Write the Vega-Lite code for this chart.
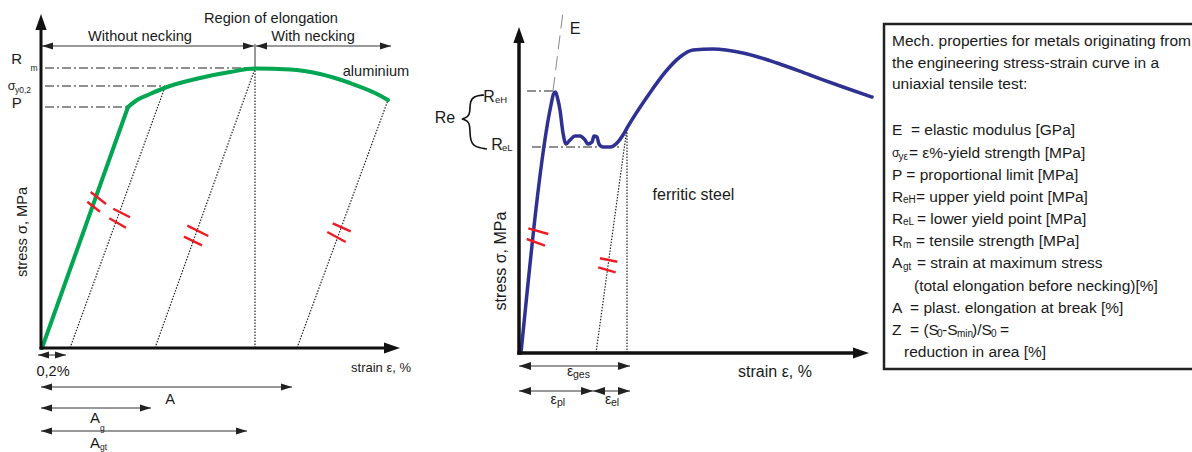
{
  "$schema": "https://vega.github.io/schema/vega-lite/v6.json",
  "background": "white",
  "padding": 0,
  "spacing": 0,
  "config": {"view": {"stroke": null}, "font": "Liberation Sans"},
  "resolve": {"scale": {"x": "independent", "y": "independent"}},
  "datasets": {
    "leftSeg": [
      {"x": 29, "y": 0, "x2": 124, "y2": 261, "kind": "dot"},
      {"x": 114, "y": 0, "x2": 214, "y2": 279.5, "kind": "dot"},
      {"x": 214, "y": 0, "x2": 214, "y2": 279.5, "kind": "dot"},
      {"x": 256, "y": 0, "x2": 347, "y2": 248, "kind": "dot"},
      {"x": 4, "y": 280, "x2": 214, "y2": 280, "kind": "dashdot"},
      {"x": 4, "y": 262, "x2": 124, "y2": 262, "kind": "dashdot"},
      {"x": 4, "y": 241, "x2": 86, "y2": 241, "kind": "dashdot"},
      {"x": 1, "y": 302, "x2": 213, "y2": 302, "kind": "dim"},
      {"x": 215, "y": 302, "x2": 350, "y2": 302, "kind": "dim"},
      {"x": 214, "y": 280, "x2": 214, "y2": 304, "kind": "dim"},
      {"x": -3, "y": -7, "x2": 25, "y2": -7, "kind": "dim"},
      {"x": 0, "y": -39, "x2": 251, "y2": -39, "kind": "dim"},
      {"x": 0, "y": -60, "x2": 110, "y2": -60, "kind": "dim"},
      {"x": 0, "y": -83, "x2": 206, "y2": -83, "kind": "dim"},
      {"x": 49.7, "y": 156, "x2": 65, "y2": 144, "kind": "tick"},
      {"x": 46.3, "y": 146.3, "x2": 59, "y2": 136.3, "kind": "tick"},
      {"x": 72.3, "y": 139.3, "x2": 89, "y2": 130.7, "kind": "tick"},
      {"x": 68.3, "y": 129.7, "x2": 85, "y2": 120.3, "kind": "tick"},
      {"x": 146.3, "y": 122.3, "x2": 167.3, "y2": 112, "kind": "tick"},
      {"x": 143, "y": 111.3, "x2": 161, "y2": 102.7, "kind": "tick"},
      {"x": 291.7, "y": 124.7, "x2": 309.7, "y2": 116.7, "kind": "tick"},
      {"x": 286.3, "y": 116, "x2": 304.7, "y2": 106, "kind": "tick"},
      {"x": 0, "y": 0, "x2": 0, "y2": 320, "kind": "axis"},
      {"x": 0, "y": 0, "x2": 345, "y2": 0, "kind": "axis"}
    ],
    "leftArrow": [
      {"x": 0, "y": 334, "dir": "up", "kind": "axis"},
      {"x": 359, "y": 0, "dir": "right", "kind": "axis"},
      {"x": 1, "y": 302, "dir": "left", "kind": "dim"},
      {"x": 213, "y": 302, "dir": "right", "kind": "dim"},
      {"x": 215, "y": 302, "dir": "left", "kind": "dim"},
      {"x": 350, "y": 302, "dir": "right", "kind": "dim"},
      {"x": -3, "y": -7, "dir": "left", "kind": "dim"},
      {"x": 25, "y": -7, "dir": "right", "kind": "dim"},
      {"x": 0, "y": -39, "dir": "left", "kind": "dim"},
      {"x": 251, "y": -39, "dir": "right", "kind": "dim"},
      {"x": 0, "y": -60, "dir": "left", "kind": "dim"},
      {"x": 110, "y": -60, "dir": "right", "kind": "dim"},
      {"x": 0, "y": -83, "dir": "left", "kind": "dim"},
      {"x": 206, "y": -83, "dir": "right", "kind": "dim"}
    ],
    "leftCurve": [
      {"x": 1, "y": 0, "seg": "elastic", "i": 0},
      {"x": 87, "y": 241, "seg": "elastic", "i": 1},
      {"x": 87, "y": 241, "seg": "plastic", "i": 0},
      {"x": 96, "y": 248, "seg": "plastic", "i": 1},
      {"x": 109, "y": 254, "seg": "plastic", "i": 2},
      {"x": 126, "y": 261, "seg": "plastic", "i": 3},
      {"x": 159, "y": 270, "seg": "plastic", "i": 4},
      {"x": 189, "y": 276, "seg": "plastic", "i": 5},
      {"x": 214, "y": 279.5, "seg": "plastic", "i": 6},
      {"x": 249, "y": 278.5, "seg": "plastic", "i": 7},
      {"x": 279, "y": 274, "seg": "plastic", "i": 8},
      {"x": 309, "y": 265, "seg": "plastic", "i": 9},
      {"x": 334, "y": 255, "seg": "plastic", "i": 10},
      {"x": 347, "y": 248, "seg": "plastic", "i": 11}
    ],
    "leftText": [
      {"x": 230, "y": 329, "text": "Region of elongation", "role": "head"},
      {"x": 99, "y": 311, "text": "Without necking", "role": "head"},
      {"x": 272, "y": 311, "text": "With necking", "role": "head"},
      {"x": 335, "y": 276, "text": "aluminium", "role": "head"},
      {"x": 12, "y": -24, "text": "0,2%", "role": "head"},
      {"x": 129, "y": -52, "text": "A", "role": "head"},
      {"x": 340, "y": -20, "text": "strain ε, %", "role": "axisX"},
      {"x": -18, "y": 116, "text": "stress σ, MPa", "role": "axisY"},
      {"x": -24.3, "y": 289, "text": "R", "role": "sym"},
      {"x": -24.3, "y": 245, "text": "P", "role": "sym"},
      {"x": 54, "y": -70, "text": "A", "role": "sym"},
      {"x": 54, "y": -95, "text": "A", "role": "sym"},
      {"x": -29.3, "y": 262, "text": "σ", "role": "sigma"},
      {"x": -10.5, "y": 280, "text": "m", "role": "sub"},
      {"x": -26, "y": 258.5, "text": "y0,2", "role": "sub"},
      {"x": 59, "y": -80, "text": "g", "role": "sub"},
      {"x": 59, "y": -99, "text": "gt", "role": "sub"}
    ],
    "midSeg": [
      {"x": 108, "y": 0, "x2": 108, "y2": 225, "kind": "dot"},
      {"x": 77, "y": 0, "x2": 108, "y2": 225, "kind": "dot"},
      {"x": 8, "y": 262, "x2": 34, "y2": 262, "kind": "dashdot"},
      {"x": 13, "y": 206, "x2": 100, "y2": 206, "kind": "dashdot"},
      {"x": 34, "y": 262, "x2": 44, "y2": 341, "kind": "dashE"},
      {"x": 0, "y": -13, "x2": 111, "y2": -13, "kind": "dim"},
      {"x": 0, "y": -38, "x2": 74, "y2": -38, "kind": "dim"},
      {"x": 74, "y": -38, "x2": 111, "y2": -38, "kind": "dim"},
      {"x": 9.3, "y": 124.7, "x2": 29.3, "y2": 119, "kind": "tick"},
      {"x": 7.7, "y": 114, "x2": 26, "y2": 107.3, "kind": "tick"},
      {"x": 81, "y": 94.7, "x2": 98.3, "y2": 91.3, "kind": "tick"},
      {"x": 79.3, "y": 85.7, "x2": 96.7, "y2": 80.7, "kind": "tick"},
      {"x": 0, "y": 0, "x2": 0, "y2": 309, "kind": "axis"},
      {"x": 0, "y": 0, "x2": 334, "y2": 0, "kind": "axis"}
    ],
    "midArrow": [
      {"x": 0, "y": 326, "dir": "up", "kind": "axis"},
      {"x": 350, "y": 0, "dir": "right", "kind": "axis"},
      {"x": 0, "y": -13, "dir": "left", "kind": "dim"},
      {"x": 111, "y": -13, "dir": "right", "kind": "dim"},
      {"x": 0, "y": -38, "dir": "left", "kind": "dim"},
      {"x": 74, "y": -38, "dir": "right", "kind": "dim"},
      {"x": 74, "y": -38, "dir": "left", "kind": "dim"},
      {"x": 111, "y": -38, "dir": "right", "kind": "dim"}
    ],
    "midCurve": [
      {"x": 2, "y": 0, "i": 0},
      {"x": 32, "y": 248, "i": 1},
      {"x": 34.5, "y": 259, "i": 2},
      {"x": 36.5, "y": 261, "i": 3},
      {"x": 39, "y": 253, "i": 4},
      {"x": 41, "y": 243, "i": 5},
      {"x": 44, "y": 220, "i": 6},
      {"x": 47, "y": 209, "i": 7},
      {"x": 51, "y": 213, "i": 8},
      {"x": 56, "y": 217, "i": 9},
      {"x": 61, "y": 217, "i": 10},
      {"x": 66, "y": 213, "i": 11},
      {"x": 69, "y": 209, "i": 12},
      {"x": 73, "y": 211, "i": 13},
      {"x": 75, "y": 217, "i": 14},
      {"x": 78, "y": 216, "i": 15},
      {"x": 80, "y": 209, "i": 16},
      {"x": 84, "y": 206, "i": 17},
      {"x": 91, "y": 206, "i": 18},
      {"x": 98, "y": 210, "i": 19},
      {"x": 104, "y": 218, "i": 20},
      {"x": 108, "y": 225, "i": 21},
      {"x": 128, "y": 256, "i": 22},
      {"x": 148, "y": 283, "i": 23},
      {"x": 161, "y": 296, "i": 24},
      {"x": 174, "y": 303, "i": 25},
      {"x": 194, "y": 304, "i": 26},
      {"x": 224, "y": 300, "i": 27},
      {"x": 258, "y": 290, "i": 28},
      {"x": 291, "y": 278, "i": 29},
      {"x": 324, "y": 266, "i": 30},
      {"x": 353, "y": 256, "i": 31}
    ],
    "brace": [
      {"x": -35, "y": 258, "i": 0},
      {"x": -45, "y": 257, "i": 1},
      {"x": -49, "y": 252, "i": 2},
      {"x": -49, "y": 240, "i": 3},
      {"x": -51, "y": 236, "i": 4},
      {"x": -57, "y": 234, "i": 5},
      {"x": -57, "y": 234, "i": 6},
      {"x": -51, "y": 232, "i": 7},
      {"x": -49, "y": 228, "i": 8},
      {"x": -49, "y": 213, "i": 9},
      {"x": -45, "y": 206, "i": 10},
      {"x": -32, "y": 204, "i": 11}
    ],
    "midText": [
      {"x": 56, "y": 324, "text": "E", "role": "sym"},
      {"x": -74, "y": 235, "text": "Re", "role": "sym"},
      {"x": -30, "y": 256, "text": "R", "role": "sym"},
      {"x": -22, "y": 208, "text": "R", "role": "sym"},
      {"x": -24, "y": 253, "text": "eH", "role": "sub"},
      {"x": -17, "y": 205, "text": "eL", "role": "sub"},
      {"x": 174.5, "y": 158, "text": "ferritic steel", "role": "label"},
      {"x": 256, "y": -19, "text": "strain ε, %", "role": "label"},
      {"x": -18, "y": 92, "text": "stress σ, MPa", "role": "axisY"},
      {"x": 51, "y": -19, "text": "ε", "role": "eps"},
      {"x": 34.5, "y": -47, "text": "ε", "role": "eps"},
      {"x": 89, "y": -47, "text": "ε", "role": "eps"},
      {"x": 54, "y": -22, "text": "ges", "role": "epsSub"},
      {"x": 38, "y": -50, "text": "pl", "role": "epsSub"},
      {"x": 92, "y": -50, "text": "el", "role": "epsSub"}
    ],
    "box": [
      {"x": 5, "y": 83, "x2": 330, "y2": 428}
    ],
    "boxText": [
      {"x": 13, "y": 411, "text": "Mech. properties for metals originating from", "role": "body"},
      {"x": 13, "y": 389, "text": "the engineering stress-strain curve in a", "role": "body"},
      {"x": 13, "y": 368, "text": "uniaxial tensile test:", "role": "body"},
      {"x": 13, "y": 322, "text": "E \u00a0= elastic modulus [GPa]", "role": "body"},
      {"x": 30, "y": 299, "text": "= ε%-yield strength [MPa]", "role": "body"},
      {"x": 13, "y": 277, "text": "P = proportional limit [MPa]", "role": "body"},
      {"x": 13, "y": 255, "text": "R", "role": "body"},
      {"x": 37, "y": 255, "text": "= upper yield point [MPa]", "role": "body"},
      {"x": 13, "y": 233, "text": "R", "role": "body"},
      {"x": 38, "y": 233, "text": "= lower yield point [MPa]", "role": "body"},
      {"x": 13, "y": 211, "text": "R", "role": "body"},
      {"x": 37, "y": 211, "text": "= tensile strength [MPa]", "role": "body"},
      {"x": 13, "y": 189, "text": "A", "role": "body"},
      {"x": 38, "y": 189, "text": "= strain at maximum stress", "role": "body"},
      {"x": 35, "y": 166, "text": "(total elongation before necking)[%]", "role": "body"},
      {"x": 13, "y": 144, "text": "A \u00a0= plast. elongation at break [%]", "role": "body"},
      {"x": 13, "y": 122, "text": "Z \u00a0= (S", "role": "body"},
      {"x": 63, "y": 122, "text": "-S", "role": "body"},
      {"x": 93, "y": 122, "text": ")/S", "role": "body"},
      {"x": 121, "y": 122, "text": "=", "role": "body"},
      {"x": 25, "y": 100, "text": "reduction in area [%]", "role": "body"},
      {"x": 13, "y": 299, "text": "σ", "role": "sigma"},
      {"x": 19.5, "y": 295, "text": "yε", "role": "sub"},
      {"x": 24, "y": 252, "text": "eH", "role": "sub"},
      {"x": 24, "y": 230, "text": "eL", "role": "sub"},
      {"x": 24, "y": 207, "text": "m", "role": "sub"},
      {"x": 24, "y": 185, "text": "gt", "role": "sub"},
      {"x": 58, "y": 118, "text": "0", "role": "sub"},
      {"x": 78, "y": 118, "text": "min", "role": "sub"},
      {"x": 112, "y": 118, "text": "0", "role": "sub"}
    ]
  },
  "hconcat": [
    {
      "width": 420,
      "height": 452,
      "encoding": {
        "x": {"field": "x", "type": "quantitative", "scale": {"domain": [-41, 379], "nice": false, "zero": false}, "axis": null},
        "y": {"field": "y", "type": "quantitative", "scale": {"domain": [-104, 348], "nice": false, "zero": false}, "axis": null}
      },
      "layer": [
        {"data": {"name": "leftSeg"}, "transform": [{"filter": "datum.kind === 'dot'"}], "mark": {"type": "rule", "color": "#222", "strokeWidth": 1.2, "strokeDash": [1.5, 1.5]}, "encoding": {"x2": {"field": "x2"}, "y2": {"field": "y2"}}},
        {"data": {"name": "leftSeg"}, "transform": [{"filter": "datum.kind === 'dashdot'"}], "mark": {"type": "rule", "color": "#222", "strokeWidth": 1.2, "strokeDash": [9, 3, 2, 3]}, "encoding": {"x2": {"field": "x2"}, "y2": {"field": "y2"}}},
        {"data": {"name": "leftSeg"}, "transform": [{"filter": "datum.kind === 'dim'"}], "mark": {"type": "rule", "color": "#333", "strokeWidth": 1}, "encoding": {"x2": {"field": "x2"}, "y2": {"field": "y2"}}},
        {"data": {"name": "leftCurve"}, "mark": {"type": "line", "color": "#00a651", "strokeWidth": 4, "interpolate": "monotone", "strokeCap": "round"}, "encoding": {"detail": {"field": "seg"}, "order": {"field": "i", "type": "quantitative"}}},
        {"data": {"name": "leftSeg"}, "transform": [{"filter": "datum.kind === 'tick'"}], "mark": {"type": "rule", "color": "#ed1c24", "strokeWidth": 2.4}, "encoding": {"x2": {"field": "x2"}, "y2": {"field": "y2"}}},
        {"data": {"name": "leftSeg"}, "transform": [{"filter": "datum.kind === 'axis'"}], "mark": {"type": "rule", "color": "#111", "strokeWidth": 3, "strokeCap": "square"}, "encoding": {"x2": {"field": "x2"}, "y2": {"field": "y2"}}},
        {"data": {"name": "leftArrow"}, "transform": [{"filter": "datum.kind === 'axis' && datum.dir === 'up'"}], "mark": {"type": "point", "shape": "M0,0L-0.7,2L0.7,2Z", "size": 256, "filled": true, "color": "#111", "opacity": 1}},
        {"data": {"name": "leftArrow"}, "transform": [{"filter": "datum.kind === 'axis' && datum.dir === 'right'"}], "mark": {"type": "point", "shape": "M0,0L-2,-0.7L-2,0.7Z", "size": 256, "filled": true, "color": "#111", "opacity": 1}},
        {"data": {"name": "leftArrow"}, "transform": [{"filter": "datum.kind === 'dim' && datum.dir === 'right'"}], "mark": {"type": "point", "shape": "M0,0L-2,-0.62L-2,0.62Z", "size": 121, "filled": true, "color": "#222", "opacity": 1}},
        {"data": {"name": "leftArrow"}, "transform": [{"filter": "datum.kind === 'dim' && datum.dir === 'left'"}], "mark": {"type": "point", "shape": "M0,0L2,-0.62L2,0.62Z", "size": 121, "filled": true, "color": "#222", "opacity": 1}},
        {"data": {"name": "leftText"}, "transform": [{"filter": "datum.role === 'head'"}], "mark": {"type": "text", "fontSize": 14.6, "align": "center", "baseline": "middle", "color": "#1a1a1a", "font": "Liberation Sans"}, "encoding": {"text": {"field": "text"}}},
        {"data": {"name": "leftText"}, "transform": [{"filter": "datum.role === 'axisX'"}], "mark": {"type": "text", "fontSize": 13, "align": "center", "baseline": "middle", "color": "#1a1a1a", "font": "Liberation Sans"}, "encoding": {"text": {"field": "text"}}},
        {"data": {"name": "leftText"}, "transform": [{"filter": "datum.role === 'axisY'"}], "mark": {"type": "text", "fontSize": 14.6, "angle": 270, "align": "center", "baseline": "middle", "color": "#1a1a1a", "font": "Liberation Sans"}, "encoding": {"text": {"field": "text"}}},
        {"data": {"name": "leftText"}, "transform": [{"filter": "datum.role === 'sym'"}], "mark": {"type": "text", "fontSize": 15, "align": "center", "baseline": "middle", "color": "#1a1a1a", "font": "Liberation Sans"}, "encoding": {"text": {"field": "text"}}},
        {"data": {"name": "leftText"}, "transform": [{"filter": "datum.role === 'sigma'"}], "mark": {"type": "text", "fontSize": 12.5, "align": "center", "baseline": "middle", "color": "#1a1a1a", "font": "Liberation Sans"}, "encoding": {"text": {"field": "text"}}},
        {"data": {"name": "leftText"}, "transform": [{"filter": "datum.role === 'sub'"}], "mark": {"type": "text", "fontSize": 8.5, "align": "left", "baseline": "middle", "color": "#1a1a1a", "font": "Liberation Sans", "clip": true}, "encoding": {"text": {"field": "text"}}}
      ]
    },
    {
      "width": 456,
      "height": 452,
      "encoding": {
        "x": {"field": "x", "type": "quantitative", "scale": {"domain": [-99, 357], "nice": false, "zero": false}, "axis": null},
        "y": {"field": "y", "type": "quantitative", "scale": {"domain": [-99, 353], "nice": false, "zero": false}, "axis": null}
      },
      "layer": [
        {"data": {"name": "midSeg"}, "transform": [{"filter": "datum.kind === 'dot'"}], "mark": {"type": "rule", "color": "#222", "strokeWidth": 1.2, "strokeDash": [1.5, 1.5]}, "encoding": {"x2": {"field": "x2"}, "y2": {"field": "y2"}}},
        {"data": {"name": "midSeg"}, "transform": [{"filter": "datum.kind === 'dashdot'"}], "mark": {"type": "rule", "color": "#222", "strokeWidth": 1.2, "strokeDash": [9, 3, 2, 3]}, "encoding": {"x2": {"field": "x2"}, "y2": {"field": "y2"}}},
        {"data": {"name": "midSeg"}, "transform": [{"filter": "datum.kind === 'dashE'"}], "mark": {"type": "rule", "color": "#888", "strokeWidth": 1, "strokeDash": [14, 7]}, "encoding": {"x2": {"field": "x2"}, "y2": {"field": "y2"}}},
        {"data": {"name": "midSeg"}, "transform": [{"filter": "datum.kind === 'dim'"}], "mark": {"type": "rule", "color": "#333", "strokeWidth": 1}, "encoding": {"x2": {"field": "x2"}, "y2": {"field": "y2"}}},
        {"data": {"name": "midCurve"}, "mark": {"type": "line", "color": "#2e3192", "strokeWidth": 3.5, "interpolate": "monotone", "strokeCap": "round"}, "encoding": {"order": {"field": "i", "type": "quantitative"}}},
        {"data": {"name": "brace"}, "mark": {"type": "line", "color": "#111", "strokeWidth": 1.6, "interpolate": "basis"}, "encoding": {"order": {"field": "i", "type": "quantitative"}}},
        {"data": {"name": "midSeg"}, "transform": [{"filter": "datum.kind === 'tick'"}], "mark": {"type": "rule", "color": "#ed1c24", "strokeWidth": 2.4}, "encoding": {"x2": {"field": "x2"}, "y2": {"field": "y2"}}},
        {"data": {"name": "midSeg"}, "transform": [{"filter": "datum.kind === 'axis'"}], "mark": {"type": "rule", "color": "#111", "strokeWidth": 3.5, "strokeCap": "square"}, "encoding": {"x2": {"field": "x2"}, "y2": {"field": "y2"}}},
        {"data": {"name": "midArrow"}, "transform": [{"filter": "datum.kind === 'axis' && datum.dir === 'up'"}], "mark": {"type": "point", "shape": "M0,0L-0.7,2L0.7,2Z", "size": 256, "filled": true, "color": "#111", "opacity": 1}},
        {"data": {"name": "midArrow"}, "transform": [{"filter": "datum.kind === 'axis' && datum.dir === 'right'"}], "mark": {"type": "point", "shape": "M0,0L-2,-0.7L-2,0.7Z", "size": 256, "filled": true, "color": "#111", "opacity": 1}},
        {"data": {"name": "midArrow"}, "transform": [{"filter": "datum.kind === 'dim' && datum.dir === 'right'"}], "mark": {"type": "point", "shape": "M0,0L-2,-0.66L-2,0.66Z", "size": 144, "filled": true, "color": "#222", "opacity": 1}},
        {"data": {"name": "midArrow"}, "transform": [{"filter": "datum.kind === 'dim' && datum.dir === 'left'"}], "mark": {"type": "point", "shape": "M0,0L2,-0.66L2,0.66Z", "size": 144, "filled": true, "color": "#222", "opacity": 1}},
        {"data": {"name": "midText"}, "transform": [{"filter": "datum.role === 'sym'"}], "mark": {"type": "text", "fontSize": 16, "align": "center", "baseline": "middle", "color": "#1a1a1a", "font": "Liberation Sans"}, "encoding": {"text": {"field": "text"}}},
        {"data": {"name": "midText"}, "transform": [{"filter": "datum.role === 'sub'"}], "mark": {"type": "text", "fontSize": 9.5, "align": "left", "baseline": "middle", "color": "#1a1a1a", "font": "Liberation Sans"}, "encoding": {"text": {"field": "text"}}},
        {"data": {"name": "midText"}, "transform": [{"filter": "datum.role === 'label'"}], "mark": {"type": "text", "fontSize": 16, "align": "center", "baseline": "middle", "color": "#1a1a1a", "font": "Liberation Sans"}, "encoding": {"text": {"field": "text"}}},
        {"data": {"name": "midText"}, "transform": [{"filter": "datum.role === 'axisY'"}], "mark": {"type": "text", "fontSize": 16, "angle": 270, "align": "center", "baseline": "middle", "color": "#1a1a1a", "font": "Liberation Sans"}, "encoding": {"text": {"field": "text"}}},
        {"data": {"name": "midText"}, "transform": [{"filter": "datum.role === 'eps'"}], "mark": {"type": "text", "fontSize": 14, "align": "center", "baseline": "middle", "color": "#1a1a1a", "font": "Liberation Sans"}, "encoding": {"text": {"field": "text"}}},
        {"data": {"name": "midText"}, "transform": [{"filter": "datum.role === 'epsSub'"}], "mark": {"type": "text", "fontSize": 10.5, "align": "left", "baseline": "middle", "color": "#1a1a1a", "font": "Liberation Sans"}, "encoding": {"text": {"field": "text"}}}
      ]
    },
    {
      "width": 316,
      "height": 452,
      "encoding": {
        "x": {"field": "x", "type": "quantitative", "scale": {"domain": [0, 316], "nice": false, "zero": false}, "axis": null},
        "y": {"field": "y", "type": "quantitative", "scale": {"domain": [0, 452], "nice": false, "zero": false}, "axis": null}
      },
      "layer": [
        {"data": {"name": "box"}, "mark": {"type": "rect", "fill": null, "fillOpacity": 0, "stroke": "#222", "strokeWidth": 2.5, "clip": true}, "encoding": {"x2": {"field": "x2"}, "y2": {"field": "y2"}}},
        {"data": {"name": "boxText"}, "transform": [{"filter": "datum.role === 'body'"}], "mark": {"type": "text", "fontSize": 15.5, "align": "left", "baseline": "middle", "color": "#1a1a1a", "font": "Liberation Sans"}, "encoding": {"text": {"field": "text"}}},
        {"data": {"name": "boxText"}, "transform": [{"filter": "datum.role === 'sigma'"}], "mark": {"type": "text", "fontSize": 12, "align": "left", "baseline": "middle", "color": "#1a1a1a", "font": "Liberation Sans"}, "encoding": {"text": {"field": "text"}}},
        {"data": {"name": "boxText"}, "transform": [{"filter": "datum.role === 'sub'"}], "mark": {"type": "text", "fontSize": 10, "align": "left", "baseline": "middle", "color": "#1a1a1a", "font": "Liberation Sans"}, "encoding": {"text": {"field": "text"}}}
      ]
    }
  ]
}
